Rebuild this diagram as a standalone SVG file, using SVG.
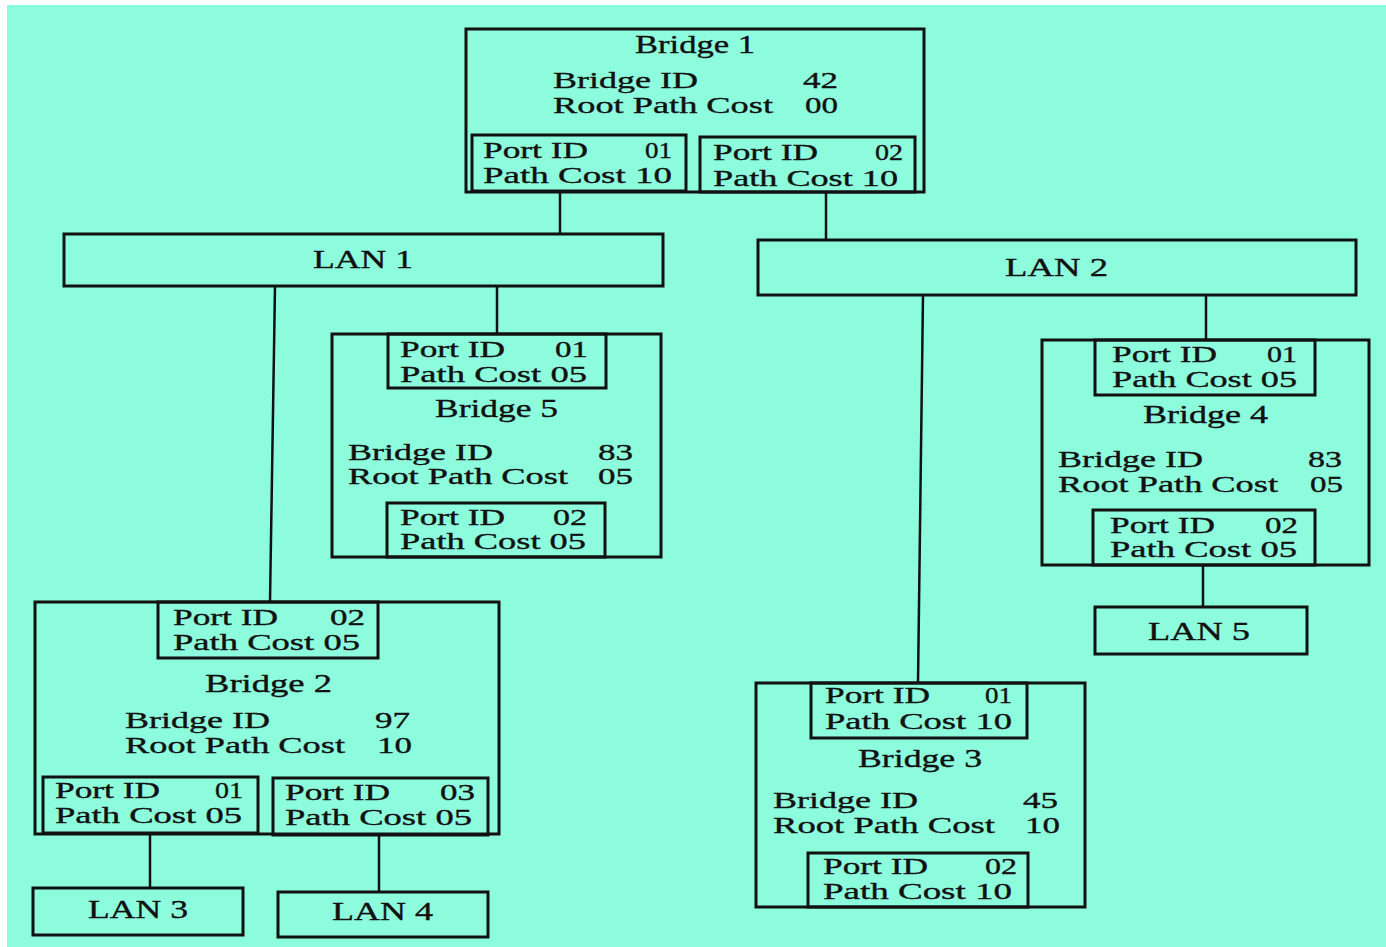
<svg xmlns="http://www.w3.org/2000/svg" width="1386" height="947" viewBox="0 0 1386 947">
<style>
.bg{fill:#8dfcdd}
.box{fill:none;stroke:#111;stroke-width:3}
.t{font-family:"Liberation Serif","Times New Roman",serif;font-size:23px;fill:#111;stroke:#111;stroke-width:0.35}
.h{font-size:25px}
.conn line{stroke:#111;stroke-width:2.5}
</style>
<rect width="1386" height="947" fill="#ffffff"/>
<rect class="bg" x="7" y="5" width="1379" height="942"/>

<g id="connectors" class="conn">
  <line x1="560" y1="192" x2="560" y2="234"/>
  <line x1="826" y1="192" x2="826" y2="240"/>
  <line x1="275" y1="286" x2="270" y2="602"/>
  <line x1="497" y1="286" x2="497" y2="334"/>
  <line x1="923" y1="295" x2="918" y2="683"/>
  <line x1="1206" y1="295" x2="1206" y2="340"/>
  <line x1="150" y1="833" x2="150" y2="888"/>
  <line x1="379" y1="835" x2="379" y2="892"/>
  <line x1="1203" y1="565" x2="1203" y2="607"/>
</g>

<g id="bridge1">
  <rect class="box" x="466" y="29" width="458" height="163"/>
  <rect class="box" x="472" y="135" width="214" height="56"/>
  <rect class="box" x="700" y="137" width="215" height="55"/>
  <text class="t h" x="635" y="53" textLength="120" lengthAdjust="spacingAndGlyphs">Bridge 1</text>
  <text class="t" x="553" y="88" textLength="145" lengthAdjust="spacingAndGlyphs">Bridge ID</text>
  <text class="t" x="803" y="88" textLength="35" lengthAdjust="spacingAndGlyphs">42</text>
  <text class="t" x="553" y="113" textLength="220" lengthAdjust="spacingAndGlyphs">Root Path Cost</text>
  <text class="t" x="805" y="113" textLength="33" lengthAdjust="spacingAndGlyphs">00</text>
  <text class="t" x="483" y="158" textLength="105" lengthAdjust="spacingAndGlyphs">Port ID</text>
  <text class="t" x="645" y="158" textLength="27" lengthAdjust="spacingAndGlyphs">01</text>
  <text class="t" x="483" y="183" textLength="189" lengthAdjust="spacingAndGlyphs">Path Cost 10</text>
  <text class="t" x="713" y="160" textLength="105" lengthAdjust="spacingAndGlyphs">Port ID</text>
  <text class="t" x="875" y="160" textLength="28" lengthAdjust="spacingAndGlyphs">02</text>
  <text class="t" x="713" y="186" textLength="185" lengthAdjust="spacingAndGlyphs">Path Cost 10</text>
</g>

<g id="lan1">
  <rect class="box" x="64" y="234" width="599" height="52"/>
  <text class="t h" x="313" y="268" textLength="100" lengthAdjust="spacingAndGlyphs">LAN 1</text>
</g>

<g id="lan2">
  <rect class="box" x="758" y="240" width="598" height="55"/>
  <text class="t h" x="1005" y="276" textLength="103" lengthAdjust="spacingAndGlyphs">LAN 2</text>
</g>

<g id="bridge5">
  <rect class="box" x="332" y="334" width="329" height="223"/>
  <rect class="box" x="388" y="334" width="218" height="54"/>
  <rect class="box" x="387" y="503" width="218" height="54"/>
  <text class="t" x="400" y="357" textLength="105" lengthAdjust="spacingAndGlyphs">Port ID</text>
  <text class="t" x="555" y="357" textLength="33" lengthAdjust="spacingAndGlyphs">01</text>
  <text class="t" x="400" y="382" textLength="187" lengthAdjust="spacingAndGlyphs">Path Cost 05</text>
  <text class="t h" x="435" y="417" textLength="123" lengthAdjust="spacingAndGlyphs">Bridge 5</text>
  <text class="t" x="348" y="460" textLength="145" lengthAdjust="spacingAndGlyphs">Bridge ID</text>
  <text class="t" x="598" y="460" textLength="35" lengthAdjust="spacingAndGlyphs">83</text>
  <text class="t" x="348" y="484" textLength="220" lengthAdjust="spacingAndGlyphs">Root Path Cost</text>
  <text class="t" x="598" y="484" textLength="35" lengthAdjust="spacingAndGlyphs">05</text>
  <text class="t" x="400" y="525" textLength="105" lengthAdjust="spacingAndGlyphs">Port ID</text>
  <text class="t" x="553" y="525" textLength="34" lengthAdjust="spacingAndGlyphs">02</text>
  <text class="t" x="400" y="549" textLength="186" lengthAdjust="spacingAndGlyphs">Path Cost 05</text>
</g>

<g id="bridge4">
  <rect class="box" x="1042" y="340" width="327" height="225"/>
  <rect class="box" x="1095" y="340" width="220" height="55"/>
  <rect class="box" x="1093" y="510" width="222" height="55"/>
  <text class="t" x="1112" y="362" textLength="105" lengthAdjust="spacingAndGlyphs">Port ID</text>
  <text class="t" x="1267" y="362" textLength="30" lengthAdjust="spacingAndGlyphs">01</text>
  <text class="t" x="1112" y="387" textLength="185" lengthAdjust="spacingAndGlyphs">Path Cost 05</text>
  <text class="t h" x="1143" y="423" textLength="125" lengthAdjust="spacingAndGlyphs">Bridge 4</text>
  <text class="t" x="1058" y="467" textLength="145" lengthAdjust="spacingAndGlyphs">Bridge ID</text>
  <text class="t" x="1308" y="467" textLength="34" lengthAdjust="spacingAndGlyphs">83</text>
  <text class="t" x="1058" y="492" textLength="220" lengthAdjust="spacingAndGlyphs">Root Path Cost</text>
  <text class="t" x="1310" y="492" textLength="33" lengthAdjust="spacingAndGlyphs">05</text>
  <text class="t" x="1110" y="533" textLength="105" lengthAdjust="spacingAndGlyphs">Port ID</text>
  <text class="t" x="1265" y="533" textLength="33" lengthAdjust="spacingAndGlyphs">02</text>
  <text class="t" x="1110" y="557" textLength="187" lengthAdjust="spacingAndGlyphs">Path Cost 05</text>
</g>

<g id="lan5">
  <rect class="box" x="1095" y="607" width="212" height="47"/>
  <text class="t h" x="1148" y="640" textLength="102" lengthAdjust="spacingAndGlyphs">LAN 5</text>
</g>

<g id="bridge2">
  <rect class="box" x="35" y="602" width="464" height="232"/>
  <rect class="box" x="158" y="602" width="220" height="56"/>
  <rect class="box" x="43" y="777" width="215" height="56"/>
  <rect class="box" x="273" y="778" width="215" height="57"/>
  <text class="t" x="173" y="625" textLength="105" lengthAdjust="spacingAndGlyphs">Port ID</text>
  <text class="t" x="330" y="625" textLength="35" lengthAdjust="spacingAndGlyphs">02</text>
  <text class="t" x="173" y="650" textLength="187" lengthAdjust="spacingAndGlyphs">Path Cost 05</text>
  <text class="t h" x="205" y="692" textLength="127" lengthAdjust="spacingAndGlyphs">Bridge 2</text>
  <text class="t" x="125" y="728" textLength="145" lengthAdjust="spacingAndGlyphs">Bridge ID</text>
  <text class="t" x="375" y="728" textLength="35" lengthAdjust="spacingAndGlyphs">97</text>
  <text class="t" x="125" y="753" textLength="220" lengthAdjust="spacingAndGlyphs">Root Path Cost</text>
  <text class="t" x="377" y="753" textLength="35" lengthAdjust="spacingAndGlyphs">10</text>
  <text class="t" x="55" y="798" textLength="105" lengthAdjust="spacingAndGlyphs">Port ID</text>
  <text class="t" x="215" y="798" textLength="28" lengthAdjust="spacingAndGlyphs">01</text>
  <text class="t" x="55" y="823" textLength="187" lengthAdjust="spacingAndGlyphs">Path Cost 05</text>
  <text class="t" x="285" y="800" textLength="105" lengthAdjust="spacingAndGlyphs">Port ID</text>
  <text class="t" x="440" y="800" textLength="35" lengthAdjust="spacingAndGlyphs">03</text>
  <text class="t" x="285" y="825" textLength="187" lengthAdjust="spacingAndGlyphs">Path Cost 05</text>
</g>

<g id="lan3">
  <rect class="box" x="33" y="888" width="210" height="47"/>
  <text class="t h" x="88" y="918" textLength="100" lengthAdjust="spacingAndGlyphs">LAN 3</text>
</g>

<g id="lan4">
  <rect class="box" x="278" y="892" width="210" height="45"/>
  <text class="t h" x="332" y="920" textLength="101" lengthAdjust="spacingAndGlyphs">LAN 4</text>
</g>

<g id="bridge3">
  <rect class="box" x="756" y="683" width="329" height="224"/>
  <rect class="box" x="811" y="683" width="216" height="55"/>
  <rect class="box" x="808" y="853" width="220" height="54"/>
  <text class="t" x="825" y="703" textLength="105" lengthAdjust="spacingAndGlyphs">Port ID</text>
  <text class="t" x="985" y="703" textLength="27" lengthAdjust="spacingAndGlyphs">01</text>
  <text class="t" x="825" y="729" textLength="187" lengthAdjust="spacingAndGlyphs">Path Cost 10</text>
  <text class="t h" x="858" y="767" textLength="124" lengthAdjust="spacingAndGlyphs">Bridge 3</text>
  <text class="t" x="773" y="808" textLength="145" lengthAdjust="spacingAndGlyphs">Bridge ID</text>
  <text class="t" x="1023" y="808" textLength="35" lengthAdjust="spacingAndGlyphs">45</text>
  <text class="t" x="773" y="833" textLength="222" lengthAdjust="spacingAndGlyphs">Root Path Cost</text>
  <text class="t" x="1025" y="833" textLength="35" lengthAdjust="spacingAndGlyphs">10</text>
  <text class="t" x="823" y="874" textLength="105" lengthAdjust="spacingAndGlyphs">Port ID</text>
  <text class="t" x="985" y="874" textLength="32" lengthAdjust="spacingAndGlyphs">02</text>
  <text class="t" x="823" y="899" textLength="189" lengthAdjust="spacingAndGlyphs">Path Cost 10</text>
</g>
</svg>
